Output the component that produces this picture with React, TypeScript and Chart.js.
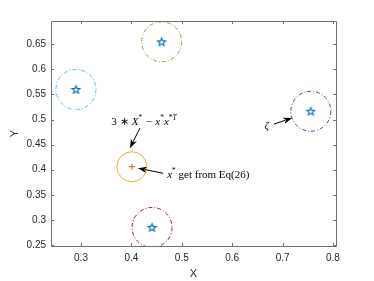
import React, { useEffect, useRef } from 'react';
import { Chart, registerables } from 'chart.js';

Chart.register(...registerables);

// axis ticks and ranges
const xTicks = [0.3, 0.4, 0.5, 0.6, 0.7, 0.8];
const yTicks = [0.25, 0.3, 0.35, 0.4, 0.45, 0.5, 0.55, 0.6, 0.65];
const xRange = [0.2405, 0.806];
const yRange = [0.248, 0.6964];

// agents (stars with dash-dot circles)
const agentX = [0.29, 0.46, 0.756, 0.441];
const agentY = [0.56, 0.655, 0.5166, 0.285];
const agentColors = ['#4DBEEE', '#77AC30', '#7E2F8E', '#A2142F'];

// solution point
const solutionX = [0.401];
const solutionY = [0.406];

// arrows: tail -> head
const arrowTailX = [0.417, 0.463, 0.683];
const arrowTailY = [0.483, 0.393, 0.491];
const arrowHeadX = [0.397, 0.413, 0.719];
const arrowHeadY = [0.443, 0.403, 0.503];

// annotation anchors
const labelX = [0.425, 0.471, 0.673];
const labelY = [0.497, 0.391, 0.489];

type Seg = { t: string; it?: boolean; sup?: boolean; gap?: number };
const labelSegs: Seg[][] = [
  [
    { t: '3' },
    { t: '∗', gap: 3 },
    { t: 'X', it: true, gap: 3 },
    { t: '*', sup: true },
    { t: '−', gap: 3.5 },
    { t: 'x', it: true, gap: 3.5 },
    { t: '*', sup: true },
    { t: 'x', it: true },
    { t: '*', sup: true },
    { t: 'T', it: true, sup: true },
  ],
  [
    { t: 'x', it: true },
    { t: '*', sup: true },
    { t: ' get from Eq(26)' },
  ],
  [{ t: 'ζ', it: true }],
];
const labelAlign = ['center', 'left', 'right'];

const SERIF = '"Liberation Serif", serif';
const SANS = '"Liberation Sans", Arial, sans-serif';

function makeStar(): HTMLCanvasElement {
  const c = document.createElement('canvas');
  const s = 11;
  c.width = s;
  c.height = s;
  const ctx = c.getContext('2d')!;
  const cx = s / 2, cy = s / 2 + 0.4;
  const R = 4.2, r = R * 0.42;
  ctx.beginPath();
  for (let i = 0; i < 10; i++) {
    const a = -Math.PI / 2 + (i * Math.PI) / 5;
    const rad = i % 2 === 0 ? R : r;
    const px = cx + rad * Math.cos(a);
    const py = cy + rad * Math.sin(a);
    if (i === 0) ctx.moveTo(px, py);
    else ctx.lineTo(px, py);
  }
  ctx.closePath();
  ctx.strokeStyle = '#0072BD';
  ctx.lineWidth = 1.1;
  ctx.stroke();
  return c;
}

function drawSegs(ctx: CanvasRenderingContext2D, segs: Seg[], x: number, y: number, align: string) {
  const size = 11;
  const fontFor = (s: Seg) => `${s.it ? 'italic ' : ''}${s.sup ? size * 0.68 : size}px ${SERIF}`;
  let total = 0;
  const widths = segs.map((s) => {
    ctx.font = fontFor(s);
    const w = ctx.measureText(s.t).width + (s.gap || 0);
    total += w;
    return w;
  });
  let cx = x;
  if (align === 'center') cx = x - total / 2;
  else if (align === 'right') cx = x - total;
  ctx.textBaseline = 'alphabetic';
  ctx.textAlign = 'left';
  ctx.fillStyle = '#000';
  segs.forEach((s, i) => {
    ctx.font = fontFor(s);
    ctx.fillText(s.t, cx + (s.gap || 0), s.sup ? y - 4.5 : y);
    cx += widths[i];
  });
}

const dashPlugin = {
  id: 'dashPlugin',
  beforeDatasetDraw(chart: any, args: any) {
    const ds = chart.data.datasets[args.index];
    if (ds.dash) chart.ctx.setLineDash(ds.dash);
  },
  afterDatasetDraw(chart: any) {
    chart.ctx.setLineDash([]);
  },
};

const decorPlugin = {
  id: 'decor',
  afterDraw(chart: any) {
    const ctx = chart.ctx as CanvasRenderingContext2D;
    const { left, right, top, bottom } = chart.chartArea;
    const xs = chart.scales.x;
    const ys = chart.scales.y;
    ctx.save();
    // box and inward ticks
    ctx.strokeStyle = '#6e6e6e';
    ctx.lineWidth = 1;
    ctx.beginPath();
    ctx.rect(Math.round(left) + 0.5, Math.round(top) + 0.5, Math.round(right - left), Math.round(bottom - top));
    const tl = 3;
    xTicks.forEach((v) => {
      const px = Math.round(xs.getPixelForValue(v)) + 0.5;
      ctx.moveTo(px, bottom);
      ctx.lineTo(px, bottom - tl);
      ctx.moveTo(px, top);
      ctx.lineTo(px, top + tl);
    });
    yTicks.forEach((v) => {
      const py = Math.round(ys.getPixelForValue(v)) + 0.5;
      ctx.moveTo(left, py);
      ctx.lineTo(left + tl, py);
      ctx.moveTo(right, py);
      ctx.lineTo(right - tl, py);
    });
    ctx.stroke();

    // arrows
    ctx.strokeStyle = '#000';
    ctx.fillStyle = '#000';
    arrowTailX.forEach((_, i) => {
      const x0 = xs.getPixelForValue(arrowTailX[i]);
      const y0 = ys.getPixelForValue(arrowTailY[i]);
      const x1 = xs.getPixelForValue(arrowHeadX[i]);
      const y1 = ys.getPixelForValue(arrowHeadY[i]);
      const ang = Math.atan2(y1 - y0, x1 - x0);
      const hl = 9, hw = 3.2;
      const bx = x1 - hl * Math.cos(ang);
      const by = y1 - hl * Math.sin(ang);
      ctx.beginPath();
      ctx.lineWidth = 1;
      ctx.moveTo(x0, y0);
      ctx.lineTo(bx + 2 * Math.cos(ang), by + 2 * Math.sin(ang));
      ctx.stroke();
      ctx.beginPath();
      ctx.moveTo(x1, y1);
      ctx.lineTo(bx - hw * Math.sin(ang), by + hw * Math.cos(ang));
      ctx.lineTo(bx + 2.5 * Math.cos(ang), by + 2.5 * Math.sin(ang));
      ctx.lineTo(bx + hw * Math.sin(ang), by - hw * Math.cos(ang));
      ctx.closePath();
      ctx.fill();
    });

    // labels
    labelSegs.forEach((segs, i) => {
      const px = xs.getPixelForValue(labelX[i]);
      const py = ys.getPixelForValue(labelY[i]);
      drawSegs(ctx, segs, px, py + 3.5, labelAlign[i]);
    });
    ctx.restore();
  },
};

export default function App() {
  const ref = useRef<HTMLCanvasElement | null>(null);
  useEffect(() => {
    if (!ref.current) return;
    const star = makeStar();
    const datasets: any[] = [];
    agentX.forEach((x, i) => {
      datasets.push({
        label: 'range' + i,
        data: [{ x, y: agentY[i] }],
        pointRadius: 20,
        pointHoverRadius: 20,
        pointBorderWidth: 1,
        pointBorderColor: agentColors[i],
        pointBackgroundColor: 'rgba(0,0,0,0)',
        pointStyle: 'circle',
        dash: [4, 2, 1, 2],
      });
    });
    datasets.push({
      label: 'agents',
      data: agentX.map((x, i) => ({ x, y: agentY[i] })),
      pointStyle: star,
      pointRadius: 5,
    });
    datasets.push({
      label: 'solution range',
      data: solutionX.map((x, i) => ({ x, y: solutionY[i] })),
      pointRadius: 15,
      pointBorderWidth: 1,
      pointBorderColor: '#EDB120',
      pointBackgroundColor: 'rgba(0,0,0,0)',
      pointStyle: 'circle',
    });
    datasets.push({
      label: 'solution',
      data: solutionX.map((x, i) => ({ x, y: solutionY[i] })),
      pointRadius: 3.2,
      pointBorderWidth: 1,
      pointBorderColor: '#D95319',
      pointStyle: 'cross',
    });

    const chart = new Chart(ref.current, {
      type: 'scatter',
      data: { datasets },
      plugins: [dashPlugin, decorPlugin],
      options: {
        animation: false,
        responsive: false,
        events: [],
        layout: { padding: { left: 0, right: 38, top: 21, bottom: 0 } },
        plugins: { legend: { display: false }, tooltip: { enabled: false } },
        scales: {
          x: {
            type: 'linear',
            min: xRange[0],
            max: xRange[1],
            afterBuildTicks: (s: any) => {
              s.ticks = xTicks.map((v) => ({ value: v }));
            },
            afterFit: (s: any) => {
              s.height = 35;
            },
            grid: { display: false, drawTicks: false },
            border: { display: false },
            ticks: {
              padding: 6,
              color: '#262626',
              font: { family: SANS, size: 10 },
              callback: (v: any) => String(v),
              maxRotation: 0,
            },
            title: {
              display: true,
              text: 'X',
              color: '#262626',
              font: { family: SANS, size: 11 },
              padding: { top: 1.5, bottom: 0 },
            },
          },
          y: {
            type: 'linear',
            min: yRange[0],
            max: yRange[1],
            afterBuildTicks: (s: any) => {
              s.ticks = yTicks.map((v) => ({ value: v }));
            },
            afterFit: (s: any) => {
              s.width = 51;
            },
            grid: { display: false, drawTicks: false },
            border: { display: false },
            ticks: {
              padding: 5,
              color: '#262626',
              font: { family: SANS, size: 10 },
              callback: (v: any) => String(v),
            },
            title: {
              display: true,
              text: 'Y',
              color: '#262626',
              font: { family: SANS, size: 11 },
              padding: { top: 8.4, bottom: 0 },
            },
          },
        },
      },
    } as any);
    return () => chart.destroy();
  }, []);
  return (
    <div style={{ position: 'absolute', left: 0, top: 0, width: 374, height: 281, background: '#fff' }}>
      <canvas ref={ref} width={374} height={281} style={{ width: 374, height: 281, display: 'block' }} />
    </div>
  );
}
